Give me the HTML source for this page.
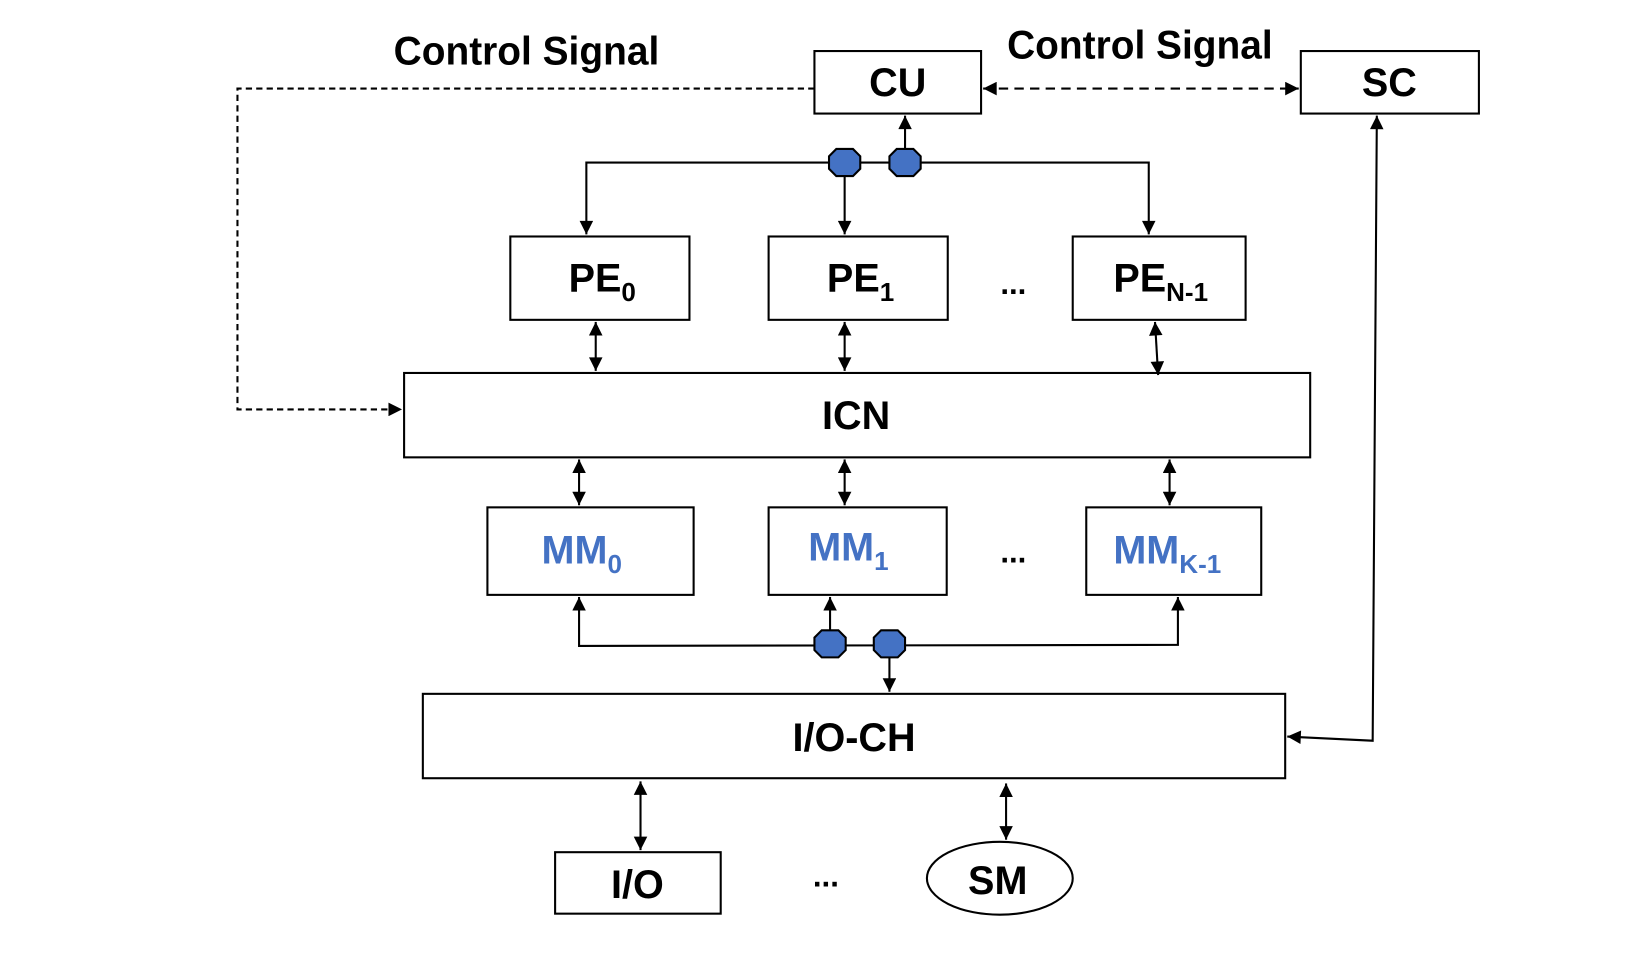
<!DOCTYPE html>
<html><head><meta charset="utf-8"><style>
html,body{margin:0;padding:0;background:#fff;}
svg{display:block;}
text{font-family:"Liberation Sans",sans-serif;font-weight:bold;}
</style></head><body>
<svg width="1632" height="972" viewBox="0 0 1567 933" preserveAspectRatio="none" xmlns="http://www.w3.org/2000/svg">
<defs>
<marker id="a" viewBox="0 0 10 10" refX="10" refY="5" markerWidth="15" markerHeight="13" markerUnits="userSpaceOnUse" orient="auto-start-reverse"><path d="M0,0 L10,5 L0,10 z" fill="#000"/></marker>
<g id="oct"><polygon points="-8,-13 8,-13 15,-6 15,6 8,13 -8,13 -15,6 -15,-6" fill="#4472C4" stroke="#000" stroke-width="2"/></g>
</defs>
<g fill="none" stroke="#000" stroke-width="2">
<rect x="782" y="49" width="160" height="60"/>
<rect x="1249" y="49" width="171" height="60"/>
<rect x="490" y="227" width="172" height="80"/>
<rect x="738" y="227" width="172" height="80"/>
<rect x="1030" y="227" width="166" height="80"/>
<rect x="388" y="358" width="870" height="81"/>
<rect x="468" y="487" width="198" height="84"/>
<rect x="738" y="487" width="171" height="84"/>
<rect x="1043" y="487" width="168" height="84"/>
<rect x="406" y="666" width="828" height="81"/>
<rect x="533" y="818" width="159" height="59"/>
<ellipse cx="960" cy="843" rx="70" ry="35"/>
</g>
<g fill="none" stroke="#000" stroke-width="2">
<polyline points="782,85 228,85 228,393 386,393" stroke-dasharray="6,4" marker-end="url(#a)"/>
<line x1="944" y1="85" x2="1247" y2="85" stroke-dasharray="9,6" marker-start="url(#a)" marker-end="url(#a)"/>
<polyline points="563,225 563,156 1103,156 1103,225" marker-start="url(#a)" marker-end="url(#a)"/>
<line x1="811" y1="156" x2="811" y2="225" marker-end="url(#a)"/>
<line x1="869" y1="156" x2="869" y2="111" marker-end="url(#a)"/>
<line x1="572" y1="309" x2="572" y2="356" marker-start="url(#a)" marker-end="url(#a)"/>
<line x1="811" y1="309" x2="811" y2="356" marker-start="url(#a)" marker-end="url(#a)"/>
<line x1="1109" y1="309" x2="1112" y2="360" marker-start="url(#a)" marker-end="url(#a)"/>
<line x1="556" y1="441" x2="556" y2="485" marker-start="url(#a)" marker-end="url(#a)"/>
<line x1="811" y1="441" x2="811" y2="485" marker-start="url(#a)" marker-end="url(#a)"/>
<line x1="1123" y1="441" x2="1123" y2="485" marker-start="url(#a)" marker-end="url(#a)"/>
<polyline points="556,573 556,620 1131,619 1131,573" marker-start="url(#a)" marker-end="url(#a)"/>
<line x1="797" y1="618" x2="797" y2="573" marker-end="url(#a)"/>
<line x1="854" y1="618" x2="854" y2="664" marker-end="url(#a)"/>
<polyline points="1322,111 1318,711 1236,707" marker-start="url(#a)" marker-end="url(#a)"/>
<line x1="615" y1="750" x2="615" y2="816" marker-start="url(#a)" marker-end="url(#a)"/>
<line x1="966" y1="752" x2="966" y2="806" marker-start="url(#a)" marker-end="url(#a)"/>
</g>
<use href="#oct" x="811" y="156"/>
<use href="#oct" x="869" y="156"/>
<use href="#oct" x="797" y="618"/>
<use href="#oct" x="854" y="618"/>
<g font-size="38" fill="#000">
<text x="378" y="62" textLength="255" lengthAdjust="spacingAndGlyphs">Control Signal</text>
<text x="967" y="56" textLength="255" lengthAdjust="spacingAndGlyphs">Control Signal</text>
<text x="862" y="92" text-anchor="middle">CU</text>
<text x="1334" y="92" text-anchor="middle">SC</text>
<text x="546" y="280">PE<tspan font-size="25" dy="9">0</tspan></text>
<text x="794" y="280">PE<tspan font-size="25" dy="9">1</tspan></text>
<text x="1069" y="280">PE<tspan font-size="25" dy="9">N-1</tspan></text>
<text x="973" y="282" text-anchor="middle" font-size="30">...</text>
<text x="822" y="412" text-anchor="middle">ICN</text>
<text x="973" y="540" text-anchor="middle" font-size="30">...</text>
<text x="820" y="721" text-anchor="middle">I/O-CH</text>
<text x="612" y="862" text-anchor="middle">I/O</text>
<text x="958" y="858" text-anchor="middle">SM</text>
<text x="793" y="851" text-anchor="middle" font-size="30">...</text>
</g>
<g font-size="38" fill="#4472C4">
<text x="520" y="541">MM<tspan font-size="25" dy="9">0</tspan></text>
<text x="776" y="538">MM<tspan font-size="25" dy="9">1</tspan></text>
<text x="1069" y="541">MM<tspan font-size="25" dy="9">K-1</tspan></text>
</g>
</svg>
</body></html>
